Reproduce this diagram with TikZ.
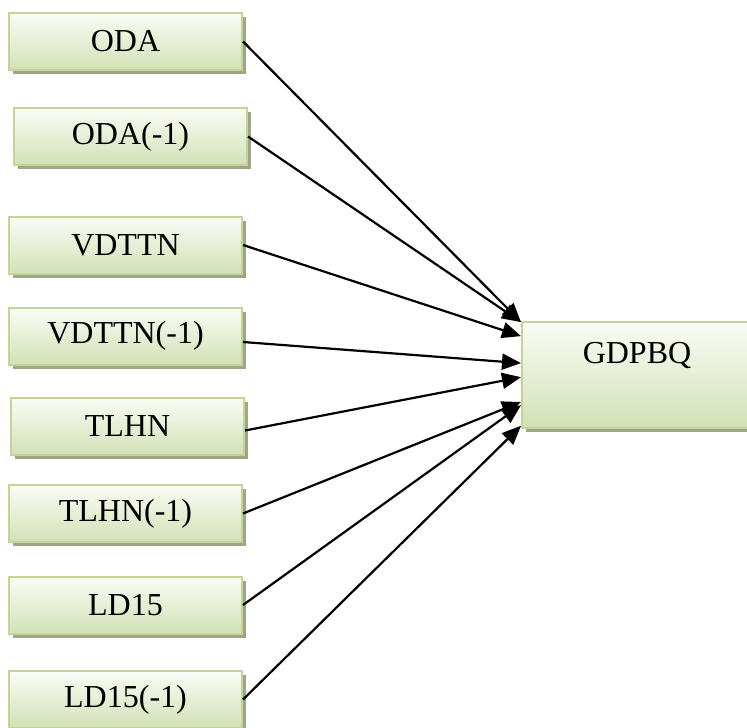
\documentclass[tikz,border=0pt]{standalone}
\usepackage{fontspec}
\setmainfont{Liberation Serif}
\usetikzlibrary{arrows.meta, shadows, calc}

\definecolor{kastenrand}{RGB}{194,212,152}
\definecolor{kastenoben}{RGB}{250,252,245}
\definecolor{kastenunten}{RGB}{210,225,182}
\definecolor{schatten}{RGB}{158,166,134}

\begin{document}
\begin{tikzpicture}[x=1pt, y=-1pt,
  kasten/.style={draw=kastenrand, line width=2pt, top color=kastenoben, bottom color=kastenunten,
    minimum width=233pt, minimum height=57pt, inner sep=0pt, font=\fontsize{32}{36}\selectfont,
    drop shadow={shadow xshift=4pt, shadow yshift=-4pt, fill=schatten, opacity=1}},
  pfeil/.style={line width=2.2pt, -{Triangle[length=19pt, width=16pt]}}]

\useasboundingbox (0,0) rectangle (747,728);

% Einflussgrößen
\node[kasten] (oda) at (125.5,41.5) {ODA};
\node[kasten] (odal) at (130.5,136.5) {ODA(-1)};
\node[kasten] (vdttn) at (125.5,245) {VDTTN};
\node[kasten] (vdttnl) at (125.5,336) {VDTTN(-1)};
\node[kasten] (tlhn) at (127.5,426.5) {TLHN};
\node[kasten] (tlhnl) at (125.5,513.5) {TLHN(-1)};
\node[kasten] (ld) at (125.5,605) {LD15};
\node[kasten] (ldl) at (125.5,699.5) {LD15(-1)};

% Zielgröße
\node[kasten, minimum width=230pt, minimum height=106pt, text height=41pt, text depth=65pt] (gdp) at (637,375) {GDPBQ};

% Verbindungen zur Zielgröße
\draw[pfeil] (oda.east) -- ($(gdp.north west)!0.01!(gdp.south west)$);
\draw[pfeil] (odal.east) -- ($(gdp.north west)!0.01!(gdp.south west)$);
\draw[pfeil] (vdttn.east) -- ($(gdp.north west)!0.14!(gdp.south west)$);
\draw[pfeil] ([yshift=-6pt]vdttnl.east) -- ($(gdp.north west)!0.39!(gdp.south west)$);
\draw[pfeil] ([yshift=-4pt]tlhn.east) -- ($(gdp.north west)!0.52!(gdp.south west)$);
\draw[pfeil] (tlhnl.east) -- ($(gdp.north west)!0.75!(gdp.south west)$);
\draw[pfeil] (ld.east) -- ($(gdp.north west)!0.78!(gdp.south west)$);
\draw[pfeil] (ldl.east) -- ($(gdp.north west)!0.97!(gdp.south west)$);

\end{tikzpicture}
\end{document}
